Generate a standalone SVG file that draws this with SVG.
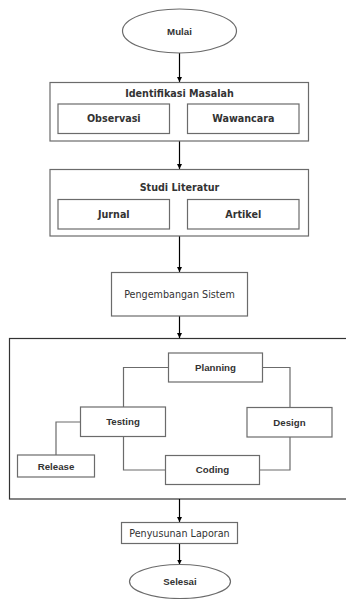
<svg xmlns="http://www.w3.org/2000/svg" width="346" height="599" viewBox="0 0 346 599">
<defs>
<marker id="ah" markerWidth="6" markerHeight="6" refX="5" refY="3" orient="auto" markerUnits="userSpaceOnUse">
<path d="M0,0.5 L5,3 L0,5.5 Z" fill="#000"/>
</marker>
<style>
.box{fill:#fff;stroke:#6b6b6b;stroke-width:1.2}
.frame{fill:none;stroke:#333;stroke-width:1.2}
.dv{font-family:"DejaVu Sans",sans-serif;font-size:9.6px;font-weight:bold;fill:#333;text-anchor:middle;dominant-baseline:central}
.dvr{font-family:"DejaVu Sans",sans-serif;font-size:9.6px;fill:#333;text-anchor:middle;dominant-baseline:central}
.ls{font-family:"Liberation Sans",Arial,sans-serif;font-size:9.7px;font-weight:bold;fill:#333;text-anchor:middle;dominant-baseline:central}
.arr{stroke:#000;stroke-width:1.2;fill:none;marker-end:url(#ah)}
.ln{stroke:#6b6b6b;stroke-width:1.2;fill:none}
</style>
</defs>
<rect width="346" height="599" fill="#fff"/>
<g id="frame"><rect class="frame" x="9.5" y="338.5" width="345" height="160.5"/></g>
<g id="connectors">
<line class="arr" x1="179.5" y1="53" x2="179.5" y2="82"/>
<line class="arr" x1="179.5" y1="141" x2="179.5" y2="169"/>
<line class="arr" x1="179.5" y1="236" x2="179.5" y2="272"/>
<line class="arr" x1="179.5" y1="316" x2="179.5" y2="338"/>
<line class="arr" x1="179.5" y1="499" x2="179.5" y2="522"/>
<line class="arr" x1="179.5" y1="543" x2="179.5" y2="564.5"/>
<polyline class="ln" points="168.5,367.5 123.5,367.5 123.5,407"/>
<polyline class="ln" points="262.5,367.5 290,367.5 290,407.5"/>
<polyline class="ln" points="290,437 290,470 259.5,470"/>
<polyline class="ln" points="165.5,470 123.5,470 123.5,437"/>
<polyline class="ln" points="80.5,422 56,422 56,455"/>
</g>
<g id="mulai"><ellipse class="box" cx="179.5" cy="31" rx="57" ry="22"/><text class="ls" x="179.5" y="31">Mulai</text></g>
<g id="identifikasi"><rect class="box" x="50" y="82.5" width="258.5" height="58.5"/><text class="dv" x="179.5" y="93.5">Identifikasi Masalah</text></g>
<g id="observasi"><rect class="box" x="58" y="104" width="111.5" height="29.5"/><text class="dv" x="113.8" y="118.8">Observasi</text></g>
<g id="wawancara"><rect class="box" x="187.5" y="104" width="111.5" height="29.5"/><text class="dv" x="243.3" y="118.8">Wawancara</text></g>
<g id="studi"><rect class="box" x="50" y="169.5" width="258.5" height="66.5"/><text class="dv" x="179.5" y="187.5">Studi Literatur</text></g>
<g id="jurnal"><rect class="box" x="58" y="199.5" width="111.5" height="29.5"/><text class="dv" x="113.8" y="214.3">Jurnal</text></g>
<g id="artikel"><rect class="box" x="187.5" y="199.5" width="111.5" height="29.5"/><text class="dv" x="243.3" y="214.3">Artikel</text></g>
<g id="pengembangan"><rect class="box" x="111.5" y="272.5" width="136" height="43.5"/><text class="dvr" x="179.5" y="294">Pengembangan Sistem</text></g>
<g id="planning"><rect class="box" x="168.5" y="353" width="94" height="29"/><text class="ls" x="215.5" y="367.3">Planning</text></g>
<g id="testing"><rect class="box" x="80.5" y="407" width="85" height="29.5"/><text class="ls" x="123" y="421.3">Testing</text></g>
<g id="design"><rect class="box" x="247" y="407.5" width="85" height="29.5"/><text class="ls" x="289.5" y="422">Design</text></g>
<g id="coding"><rect class="box" x="165.5" y="455.5" width="94" height="29"/><text class="ls" x="212.5" y="469.8">Coding</text></g>
<g id="release"><rect class="box" x="17.5" y="455" width="77" height="22"/><text class="ls" x="56" y="466">Release</text></g>
<g id="penyusunan"><rect class="box" x="121.5" y="522.5" width="116" height="21"/><text class="dvr" x="179.5" y="533">Penyusunan Laporan</text></g>
<g id="selesai"><ellipse class="box" cx="180" cy="581.5" rx="50.5" ry="17"/><text class="ls" x="180" y="581.5">Selesai</text></g>
</svg>
